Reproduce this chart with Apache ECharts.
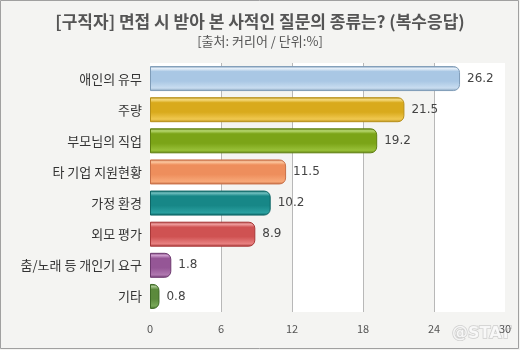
<!DOCTYPE html>
<html>
<head>
<meta charset="utf-8">
<script src="https://cdn.jsdelivr.net/npm/echarts@6/dist/echarts.min.js"></script>
<style>
  html, body { margin: 0; padding: 0; background: #f4f4f2; }
  #chart { width: 520px; height: 350px; }
</style>
</head>
<body>
<div id="chart"></div>
<script>
// Private questions asked at job interviews (multiple answers, %)
const categories = ['애인의 유무', '주량', '부모님의 직업', '타 기업 지원현황', '가정 환경', '외모 평가', '춤/노래 등 개인기 요구', '기타'];
const values = [26.2, 21.5, 19.2, 11.5, 10.2, 8.9, 1.8, 0.8];
const xTicks = [0, 6, 12, 18, 24, 30];

// glossy tube palette per bar: [edge, highlight, body, bottom]
const palettes = [
  ['#7f9cb8', '#e6f0fa', '#a9c7e4', '#c9ddf0'],
  ['#b8901a', '#f6dc80', '#d9aa1c', '#f0c850'],
  ['#5f8010', '#b8d870', '#7ba417', '#98c038'],
  ['#c87048', '#fcc8a0', '#ee8e5c', '#f8a878'],
  ['#0e6666', '#70c0c0', '#178787', '#2aa0a0'],
  ['#a83838', '#f0a0a0', '#cf5252', '#e88080'],
  ['#6e3a70', '#d0a0d0', '#955696', '#b078b0'],
  ['#3e6a26', '#a8c890', '#5b8a3c', '#78a858']
];

function tube(p) {
  return {
    type: 'linear', x: 0, y: 0, x2: 0, y2: 1,
    colorStops: [
      { offset: 0, color: p[0] },
      { offset: 0.1, color: p[1] },
      { offset: 0.22, color: p[2] },
      { offset: 0.6, color: p[2] },
      { offset: 0.88, color: p[3] },
      { offset: 1, color: p[0] }
    ]
  };
}

const chart = echarts.init(document.getElementById('chart'));
chart.setOption({
  backgroundColor: '#f4f4f2',
  animation: false,
  textStyle: { fontFamily: '"Noto Sans CJK KR", "DejaVu Sans", sans-serif' },
  title: {
    text: '[구직자] 면접 시 받아 본 사적인 질문의 종류는? (복수응답)',
    subtext: '[출처: 커리어 / 단위:%]',
    left: 'center',
    top: 8,
    itemGap: 5,
    textStyle: { fontSize: 17, fontWeight: 'bold', color: '#555555' },
    subtextStyle: { fontSize: 13, color: '#555555' }
  },
  grid: { left: 150, right: 15, top: 63, bottom: 38, containLabel: false },
  xAxis: {
    type: 'value',
    min: xTicks[0],
    max: xTicks[xTicks.length - 1],
    interval: xTicks[1] - xTicks[0],
    axisLine: { show: false },
    axisTick: { show: false },
    axisLabel: { color: '#555555', fontSize: 11, margin: 11 },
    splitLine: {
      show: true,
      lineStyle: { color: ['transparent', '#b8b8b8', '#b8b8b8', '#b8b8b8', '#b8b8b8', 'transparent'], width: 1 }
    },
    splitArea: { show: true, areaStyle: { color: ['#ffffff', '#f4f4f2'] } }
  },
  yAxis: {
    type: 'category',
    inverse: true,
    data: categories,
    axisLine: { show: false },
    axisTick: { show: false },
    axisLabel: { color: '#333333', fontSize: 13, margin: 8 }
  },
  series: [{
    type: 'bar',
    barWidth: 25,
    data: values.map((v, i) => ({
      value: v,
      itemStyle: {
        color: tube(palettes[i]),
        borderColor: palettes[i][0],
        borderWidth: 1,
        borderRadius: [0, 6, 6, 0]
      }
    })),
    label: {
      show: true,
      position: 'right',
      distance: 7,
      color: '#444444',
      fontSize: 12,
      fontFamily: '"DejaVu Sans", sans-serif'
    }
  }],
  graphic: [
    {
      type: 'rect',
      shape: { x: 0.5, y: 0.5, width: 518, height: 348 },
      style: { fill: 'none', stroke: '#a0a0a0', lineWidth: 1 },
      silent: true
    },
    {
      type: 'text',
      right: 8,
      bottom: 7,
      style: {
        text: '@STAT',
        fontSize: 16,
        fontWeight: 'bold',
        fontFamily: '"DejaVu Sans", sans-serif',
        fill: 'rgba(250,250,250,0.9)',
        stroke: 'rgba(190,190,190,0.7)',
        lineWidth: 1.5
      },
      z: 0,
      zlevel: 0
    }
  ]
});
</script>
</body>
</html>
